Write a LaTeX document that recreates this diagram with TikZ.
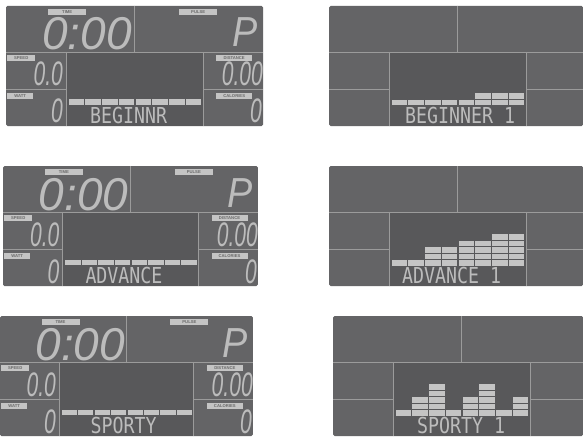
\documentclass[tikz,border=0pt]{standalone}
\usepackage{fontspec}
\setmainfont{Liberation Sans}
\newfontfamily\lcdfont{DejaVu Sans Mono}
\definecolor{panelbg}{RGB}{100,100,102}
\definecolor{centerbg}{RGB}{88,88,90}
\definecolor{divline}{RGB}{155,155,155}
\definecolor{seg}{RGB}{196,196,196}
\definecolor{lcdtext}{RGB}{188,188,188}
\definecolor{labeltext}{RGB}{105,105,105}
\tikzset{
  divider/.style={draw=divline, line width=0.9pt},
  lbl/.style={fill=seg, text=labeltext, inner sep=0pt, anchor=north west,
    minimum height=6pt, font=\fontsize{4.2}{4.2}\selectfont\bfseries},
  bigdigit/.style={text=lcdtext, inner sep=0pt, anchor=base west,
    font=\fontsize{46}{46}\selectfont\itshape},
  pdigit/.style={text=lcdtext, inner sep=0pt, anchor=base west, xscale=0.9,
    font=\fontsize{42}{42}\selectfont\itshape},
  meddigit/.style={text=lcdtext, inner sep=0pt, anchor=base east, xscale=0.62,
    font=\fontsize{34}{34}\selectfont\itshape},
  modetext/.style={text=lcdtext, inner sep=0pt, anchor=base west, xscale=0.83,
    font=\fontsize{22}{22}\selectfont\lcdfont},
}
% #1 x0, #2 y0, #3 xscale, #4 prefix, #5 mode text, #6 text x
\newcommand\lcdleft[6]{%
\begin{scope}[shift={(#1,#2)}, xscale=#3]
  \fill[panelbg, rounded corners=1.5] (0,0) rectangle (257,120);
  \fill[centerbg] (60,46) rectangle (197,120);
  \draw[divider] (0,46) -- (257,46);
  \draw[divider] (128,0) -- (128,46);
  \draw[divider] (60,46) -- (60,120);
  \draw[divider] (197,46) -- (197,120);
  \draw[divider] (0,83) -- (60,83);
  \draw[divider] (197,83) -- (257,83);
  \foreach \i in {0,...,7}
    \fill[seg] ({62+\i*16.75+0.6},93.5) rectangle ({62+(\i+1)*16.75-0.6},99);
  \node[lbl, minimum width=38pt] (#4time) at (42,3) {TIME};
  \node[lbl, minimum width=38pt] (#4pulse) at (173,3) {PULSE};
  \node[lbl, minimum width=28pt] (#4speed) at (1,49) {SPEED};
  \node[lbl, minimum width=26pt, minimum height=5.5pt] (#4watt) at (1,87) {WATT};
  \node[lbl, minimum width=36pt] (#4dist) at (210,49) {DISTANCE};
  \node[lbl, minimum width=36pt, minimum height=5.5pt] (#4cal) at (210,87) {CALORIES};
  \node[bigdigit] (#4clock) at (36,44) {0:00};
  \node[pdigit] (#4p) at (226,41) {P};
  \node[meddigit] (#4spv) at (57,80) {0.0};
  \node[meddigit] (#4wv) at (57,117) {0};
  \node[meddigit] (#4dv) at (257,80) {0.00};
  \node[meddigit] (#4cv) at (256,117) {0};
  \node[modetext] (#4mode) at (#6,117.5) {#5};
\end{scope}}
% #1 x0, #2 y0, #3 width, #4 prefix, #5 mode text, #6 text x, #7 column heights
\newcommand\lcdright[7]{%
\begin{scope}[shift={(#1,#2)}]
  \fill[panelbg, rounded corners=1.5] (0,0) rectangle (#3,120);
  \fill[centerbg] (60,46) rectangle (197,120);
  \draw[divider] (0,46) -- (#3,46);
  \draw[divider] (128,0) -- (128,46);
  \draw[divider] (60,46) -- (60,120);
  \draw[divider] (197,46) -- (197,120);
  \draw[divider] (0,83) -- (60,83);
  \draw[divider] (197,83) -- (#3,83);
  \foreach \h [count=\i from 0] in {#7}
    \foreach \r in {1,...,\h}
      \fill[seg] ({62+\i*16.75+0.6},{94-(\r-1)*6.5}) rectangle ({62+(\i+1)*16.75-0.6},{99.5-(\r-1)*6.5});
  \node[modetext] (#4mode) at (#6,117.5) {#5};
\end{scope}}
\begin{document}
\begin{tikzpicture}[x=1pt, y=-1pt]
  \useasboundingbox[fill=white] (0,0) rectangle (583,441);
  \lcdleft{6}{6}{1}{a}{BEGINNR}{84}
  \lcdleft{3}{166}{0.992}{c}{ADVANCE}{83}
  \lcdleft{0}{316}{0.984}{e}{SPORTY}{92}
  \lcdright{329}{6}{254}{b}{BEGINNER 1}{76}{1,1,1,1,1,2,2,2}
  \lcdright{329}{166}{254}{d}{ADVANCE 1}{73}{1,1,3,3,4,4,5,5}
  \lcdright{333}{316}{250}{f}{SPORTY 1}{84}{1,3,5,1,3,5,1,3}
\end{tikzpicture}
\end{document}
